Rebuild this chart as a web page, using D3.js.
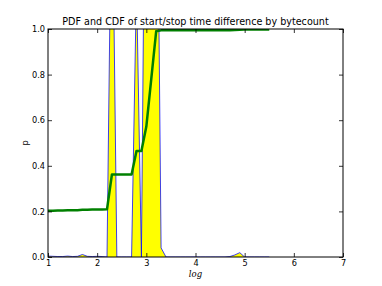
<!DOCTYPE html>
<html>
<head>
<meta charset="utf-8">
<script src="https://cdn.jsdelivr.net/npm/d3@7"></script>
<style>
  body { margin: 0; background: #fff; }
  text { font-family: "DejaVu Sans", sans-serif; }
</style>
</head>
<body>
<div id="chart"></div>
<script>
// x positions (log of time difference), one sample every 0.1
const xs = [1.0, 1.1, 1.2, 1.3, 1.4, 1.5, 1.6, 1.7, 1.8, 1.9,
            2.0, 2.1, 2.2, 2.3, 2.4, 2.5, 2.6, 2.7, 2.8, 2.9,
            3.0, 3.1, 3.2, 3.3, 3.4, 3.5, 3.6, 3.7, 3.8, 3.9,
            4.0, 4.1, 4.2, 4.3, 4.4, 4.5, 4.6, 4.7, 4.8, 4.9,
            5.0, 5.1, 5.2, 5.3, 5.4, 5.5];

// PDF (goes off the top of the axes at the peaks)
const pdf = [0.004, 0.003, 0.002, 0.002, 0.004, 0.002, 0.003, 0.011, 0.003, 0.002,
             0.003, 0.002, 0.0, 1.8, 0.0, 0.0, 0.0, 0.0, 1.2, 0.0,
             2.5, 3.0, 2.3, 0.04, 0.0, 0.0, 0.0, 0.0, 0.0, 0.0,
             0.0, 0.0, 0.0, 0.0, 0.0, 0.0, 0.0, 0.002, 0.009, 0.019,
             0.0, 0.0, 0.0, 0.0, 0.0, 0.0];

// CDF
const cdf = [0.203, 0.203, 0.204, 0.204, 0.205, 0.205, 0.205, 0.207, 0.207, 0.208,
             0.208, 0.208, 0.209, 0.362, 0.362, 0.362, 0.362, 0.362, 0.465, 0.465,
             0.572, 0.78, 0.99, 0.994, 0.994, 0.994, 0.994, 0.994, 0.994, 0.994,
             0.994, 0.994, 0.994, 0.995, 0.995, 0.995, 0.995, 0.995, 0.996, 0.997,
             0.998, 0.998, 0.998, 0.998, 0.998, 0.998];

const xTicks = [1, 2, 3, 4, 5, 6, 7];
const yTicks = [0.0, 0.2, 0.4, 0.6, 0.8, 1.0];

const W = 382, H = 286;
const margin = { top: 29, right: 39, bottom: 29, left: 48 };
const width = W - margin.left - margin.right;
const height = H - margin.top - margin.bottom;

const svg = d3.select("#chart").append("svg")
    .attr("width", W)
    .attr("height", H);

const g = svg.append("g")
    .attr("transform", `translate(${margin.left},${margin.top})`);

const xScale = d3.scaleLinear().domain([1, 7]).range([0, width]);
const yScale = d3.scaleLinear().domain([0, 1]).range([height, 0]);

g.append("clipPath").attr("id", "clip")
  .append("rect").attr("width", width).attr("height", height);

const plot = g.append("g").attr("clip-path", "url(#clip)");

const pts = xs.map((x, i) => ({ x: x, p: pdf[i], c: cdf[i] }));

// yellow fill under the pdf
plot.append("path")
    .datum(pts)
    .attr("fill", "#ffff00")
    .attr("d", d3.area().x(d => xScale(d.x)).y0(yScale(0)).y1(d => yScale(d.p)));

// pdf line
plot.append("path")
    .datum(pts)
    .attr("fill", "none")
    .attr("stroke", "#0000ff")
    .attr("stroke-width", 1)
    .attr("stroke-opacity", 0.75)
    .attr("d", d3.line().x(d => xScale(d.x)).y(d => yScale(d.p)));

// cdf line
plot.append("path")
    .datum(pts)
    .attr("fill", "none")
    .attr("stroke", "#008000")
    .attr("stroke-width", 2.5)
    .attr("stroke-linejoin", "round")
    .attr("d", d3.line().x(d => xScale(d.x)).y(d => yScale(d.c)));

// axes, matplotlib style: ticks inside on all four sides
const tickLen = 4;
g.append("g")
    .attr("transform", `translate(0,${height})`)
    .call(d3.axisBottom(xScale).tickValues(xTicks).tickSize(-tickLen).tickPadding(3)
        .tickFormat(d3.format("d")));
g.append("g")
    .call(d3.axisTop(xScale).tickValues(xTicks).tickSize(-tickLen).tickFormat(""));
g.append("g")
    .call(d3.axisLeft(yScale).tickValues(yTicks).tickSize(-tickLen).tickPadding(3)
        .tickFormat(d3.format(".1f")));
g.append("g")
    .attr("transform", `translate(${width},0)`)
    .call(d3.axisRight(yScale).tickValues(yTicks).tickSize(-tickLen).tickFormat(""));

g.selectAll(".domain").remove();
g.selectAll(".tick line").attr("stroke", "#000").attr("stroke-width", 0.8);
g.selectAll(".tick text")
    .style("font-family", "DejaVu Sans, sans-serif")
    .style("font-size", "8.2px")
    .attr("fill", "#000");

// frame
g.append("rect")
    .attr("width", width)
    .attr("height", height)
    .attr("fill", "none")
    .attr("stroke", "#000")
    .attr("stroke-width", 1);

// title
svg.append("text")
    .attr("x", margin.left + width / 2)
    .attr("y", 25)
    .attr("text-anchor", "middle")
    .style("font-size", "9.6px")
    .text("PDF and CDF of start/stop time difference by bytecount");

// x label
svg.append("text")
    .attr("x", margin.left + width / 2)
    .attr("y", 277)
    .attr("text-anchor", "middle")
    .style("font-family", "DejaVu Serif, serif")
    .style("font-style", "italic")
    .style("font-size", "8.5px")
    .text("log");

// y label
svg.append("text")
    .attr("transform", `translate(28, ${margin.top + height / 2}) rotate(-90)`)
    .attr("text-anchor", "middle")
    .style("font-size", "8.2px")
    .text("p");
</script>
</body>
</html>
